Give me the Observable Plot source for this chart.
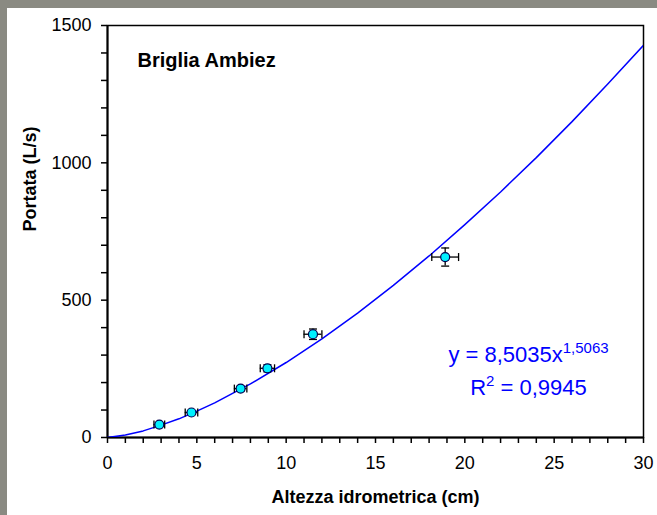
<!DOCTYPE html>
<html>
<head>
<meta charset="utf-8">
<script src="https://cdn.jsdelivr.net/npm/d3@7"></script>
<script src="https://cdn.jsdelivr.net/npm/@observablehq/plot@0.6"></script>
<style>
  html, body { margin: 0; padding: 0; }
  body { width: 657px; height: 515px; background: #8a8a82; position: relative; overflow: hidden; }
  #chart { position: absolute; left: 7px; top: 8px; width: 650px; height: 507px; background: #fff; }
  #chart svg { display: block; background: #fff; overflow: visible; max-width: none; }
</style>
</head>
<body>
<div id="chart"></div>
<script>
// Measured points (altezza idrometrica, portata) with error bars
const altezza = [2.9, 4.7, 7.45, 8.95, 11.5, 18.9];
const portata = [47, 91, 178, 252, 376, 657];
const errAltezza = [0.3, 0.35, 0.35, 0.4, 0.5, 0.75];
const errPortata = [3, 5, 9, 13, 19, 33];

// Fitted curve
const curveX = [0, 1, 2, 3, 4, 5, 6, 8, 10, 12, 14, 16, 18, 20, 22, 24, 26, 28, 30];
const curveY = [0, 9, 24, 45, 68, 96, 126, 195, 273, 359, 453, 554, 661, 775, 894, 1019, 1150, 1287, 1428];

// Tick values
const xTicks = d3.range(0, 31, 1);
const yTicks = d3.range(0, 1501, 100);

// Texts
const chartTitle = "Briglia Ambiez";
const xTitle = "Altezza idrometrica (cm)";
const yTitle = "Portata (L/s)";
const eqBase = "y = 8,5035x";
const eqExp = "1,5063";
const r2Base = "R";
const r2Exp = "2";
const r2Rest = " = 0,9945";

const pts = altezza.map((x, i) => ({x, y: portata[i], ex: errAltezza[i], ey: errPortata[i]}));
const curve = curveX.map((x, i) => ({x, y: curveY[i]}));

const vSym = {draw(ctx, size) { const r = Math.sqrt(size / Math.PI); ctx.moveTo(0, -r); ctx.lineTo(0, r); }};
const hSym = {draw(ctx, size) { const r = Math.sqrt(size / Math.PI); ctx.moveTo(-r, 0); ctx.lineTo(r, 0); }};

const font = "'Liberation Sans', Arial, sans-serif";

const plot = Plot.plot({
  width: 650,
  height: 507,
  marginLeft: 100,
  marginTop: 17,
  marginRight: 14,
  marginBottom: 78,
  style: {fontFamily: font, fontSize: "18px", color: "#000", background: "#fff", overflow: "visible"},
  x: {domain: [0, 30]},
  y: {domain: [0, 1500]},
  marks: [
    Plot.axisX({ticks: xTicks, tickSize: 6, tickPadding: 13, strokeWidth: 1.5, fontSize: 18,
      tickFormat: d => d % 5 === 0 ? String(d) : "", label: null}),
    Plot.axisY({ticks: yTicks, tickSize: 6, tickPadding: 10, strokeWidth: 1.5, fontSize: 18,
      tickFormat: d => d % 500 === 0 ? String(d) : "", label: null}),
    Plot.frame({stroke: "#000", strokeWidth: 1.5}),
    Plot.ruleX([0], {stroke: "#000", strokeWidth: 2}),
    Plot.ruleY([0], {stroke: "#000", strokeWidth: 2}),
    Plot.line(curve, {x: "x", y: "y", stroke: "#0000ff", strokeWidth: 1.5, clip: true}),
    // error bars
    Plot.ruleY(pts, {y: "y", x1: d => d.x - d.ex, x2: d => d.x + d.ex, stroke: "#000", strokeWidth: 1.3}),
    Plot.ruleX(pts, {x: "x", y1: d => d.y - d.ey, y2: d => d.y + d.ey, stroke: "#000", strokeWidth: 1.3}),
    Plot.dot(pts, {x: d => d.x - d.ex, y: "y", symbol: vSym, r: 4, stroke: "#000", strokeWidth: 1.3, fill: "none"}),
    Plot.dot(pts, {x: d => d.x + d.ex, y: "y", symbol: vSym, r: 4, stroke: "#000", strokeWidth: 1.3, fill: "none"}),
    Plot.dot(pts, {x: "x", y: d => d.y - d.ey, symbol: hSym, r: 4, stroke: "#000", strokeWidth: 1.3, fill: "none"}),
    Plot.dot(pts, {x: "x", y: d => d.y + d.ey, symbol: hSym, r: 4, stroke: "#000", strokeWidth: 1.3, fill: "none"}),
    Plot.dot(pts, {x: "x", y: "y", r: 4.5, fill: "#00f0ff", stroke: "#000050", strokeWidth: 1.2}),
    // titles
    Plot.text([chartTitle], {frameAnchor: "top-left", dx: 30, dy: 35, textAnchor: "start", lineAnchor: "middle",
      fontSize: 20, fontWeight: "bold", fill: "#000"}),
    Plot.text([xTitle], {frameAnchor: "bottom", dy: 60, lineAnchor: "middle", fontSize: 18, fontWeight: "bold", fill: "#000"}),
    Plot.text([yTitle], {frameAnchor: "left", dx: -77, rotate: -90, lineAnchor: "middle", fontSize: 18, fontWeight: "bold", fill: "#000"}),
    // equation lines (superscripts added below)
    Plot.text([eqBase], {frameAnchor: "bottom-right", dx: -115, dy: -83, textAnchor: "middle", lineAnchor: "middle",
      fontSize: 22, fill: "#0000ff"}),
    Plot.text([r2Base], {frameAnchor: "bottom-right", dx: -115, dy: -50, textAnchor: "middle", lineAnchor: "middle",
      fontSize: 22, fill: "#0000ff"})
  ]
});

const svg = d3.select(plot);

// superscripts in the equation texts
const byText = s => svg.selectAll("text").filter(function() { return this.textContent === s; });
const t1 = byText(eqBase);
t1.text(null);
t1.append("tspan").text(eqBase);
t1.append("tspan").attr("dy", "-0.55em").attr("font-size", 15).text(eqExp);
const t2 = byText(r2Base);
t2.text(null);
t2.append("tspan").text(r2Base);
t2.append("tspan").attr("dy", "-0.55em").attr("font-size", 15).text(r2Exp);
t2.append("tspan").attr("dy", "0.4em").text(r2Rest);

document.getElementById("chart").appendChild(plot);
</script>
</body>
</html>
